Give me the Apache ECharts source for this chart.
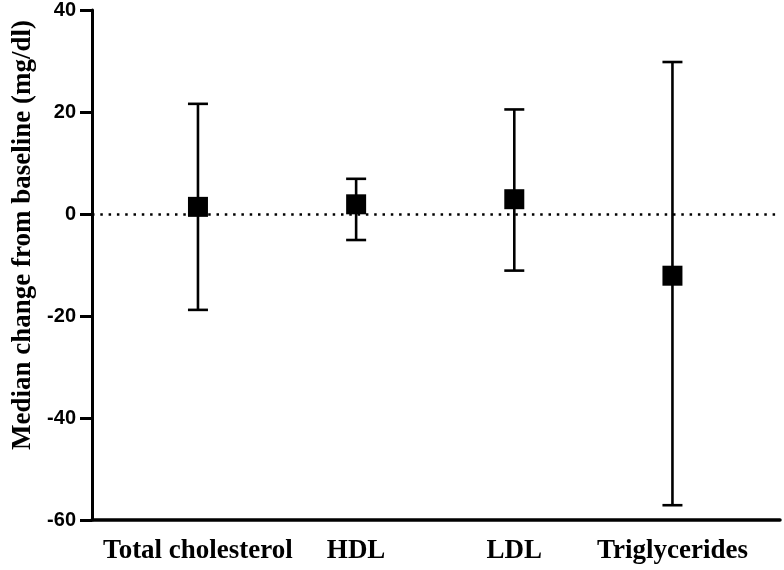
<!DOCTYPE html>
<html>
<head>
<meta charset="utf-8">
<script src="https://cdn.jsdelivr.net/npm/echarts@6/dist/echarts.min.js"></script>
<style>html,body{margin:0;padding:0;background:#fff;}#c{width:784px;height:570px;}</style>
</head>
<body>
<div id="c"></div>
<script>
var categories = ['Total cholesterol', 'HDL', 'LDL', 'Triglycerides'];
var medians = [1.4, 1.9, 2.9, -12.1];
var lowers = [-18.8, -5.1, -11.1, -57.1];
var uppers = [21.6, 6.9, 20.5, 29.8];
var yTicks = [-60, -40, -20, 0, 20, 40];

var chart = echarts.init(document.getElementById('c'), null, {renderer: 'canvas'});
var data = categories.map(function (c, i) { return [i, medians[i], lowers[i], uppers[i]]; });

var option = {
  animation: false,
  backgroundColor: '#fff',
  grid: {left: 92, right: 4, top: 10, bottom: 50},
  xAxis: {
    type: 'value',
    min: -0.67,
    max: 3.68,
    axisLine: {show: true, onZero: false, lineStyle: {color: '#000', width: 3.5}},
    axisTick: {show: false},
    splitLine: {show: false},
    axisLabel: {
      customValues: [0, 1, 2, 3],
      margin: 18,
      formatter: function (v) { return categories[Math.round(v)] || ''; },
      fontFamily: 'Liberation Serif',
      fontWeight: 'bold',
      fontSize: 27,
      color: '#000'
    }
  },
  yAxis: {
    type: 'value',
    min: yTicks[0],
    max: yTicks[yTicks.length - 1],
    interval: 20,
    name: 'Median change from baseline (mg/dl)',
    nameLocation: 'middle',
    nameGap: 55,
    nameRotate: 90,
    nameTextStyle: {fontFamily: 'Liberation Serif', fontWeight: 'bold', fontSize: 27, color: '#000', padding: [0, 0, 0, 60]},
    axisLine: {show: true, onZero: false, lineStyle: {color: '#000', width: 3}},
    axisTick: {show: true, length: 12, lineStyle: {color: '#000', width: 3}},
    splitLine: {show: false},
    axisLabel: {margin: 16, fontFamily: 'Liberation Sans', fontWeight: 'bold', fontSize: 20, color: '#000'}
  },
  series: [{
    type: 'custom',
    data: data,
    encode: {x: 0, y: [1, 2, 3]},
    renderItem: function (params, api) {
      var x = api.value(0);
      var pm = api.coord([x, api.value(1)]);
      var pl = api.coord([x, api.value(2)]);
      var pu = api.coord([x, api.value(3)]);
      var cw = 10;
      var st = {stroke: '#000', lineWidth: 2.6};
      var s = 20;
      return {
        type: 'group',
        children: [
          {type: 'line', shape: {x1: pm[0], y1: pl[1], x2: pm[0], y2: pu[1]}, style: st},
          {type: 'line', shape: {x1: pm[0] - cw, y1: pu[1], x2: pm[0] + cw, y2: pu[1]}, style: st},
          {type: 'line', shape: {x1: pm[0] - cw, y1: pl[1], x2: pm[0] + cw, y2: pl[1]}, style: st},
          {type: 'rect', shape: {x: pm[0] - s / 2, y: pm[1] - s / 2, width: s, height: s}, style: {fill: '#000'}}
        ]
      };
    },
    markLine: {
      silent: true,
      symbol: 'none',
      label: {show: false},
      lineStyle: {color: '#000', width: 2.5, type: [2.5, 5.8]},
      data: [{yAxis: 0}]
    },
    z: 5
  }]
};
chart.setOption(option);
</script>
</body>
</html>
